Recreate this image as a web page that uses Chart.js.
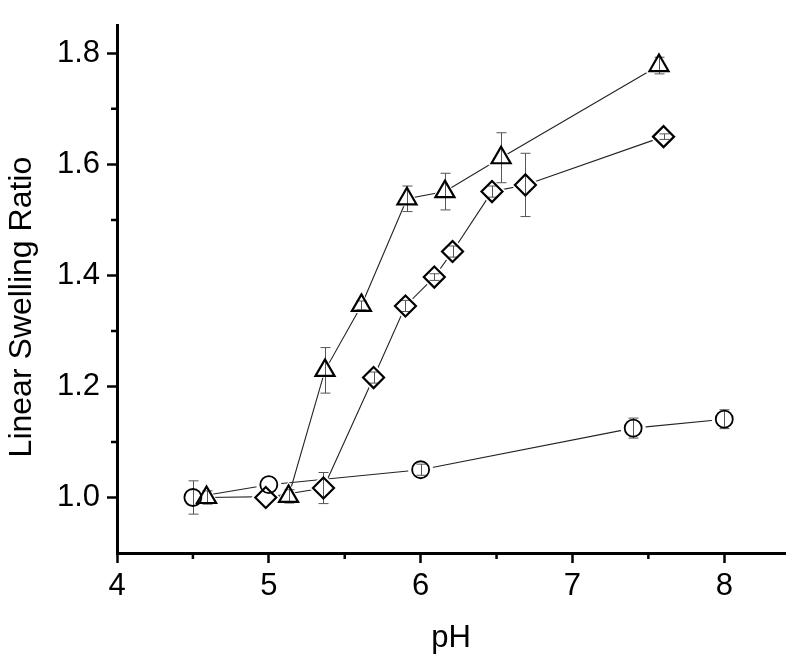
<!DOCTYPE html>
<html><head><meta charset="utf-8">
<script src="https://cdn.jsdelivr.net/npm/chart.js@4/dist/chart.umd.min.js"></script>
<style>html,body{margin:0;padding:0;background:#fff}#wrap{width:800px;height:665px}</style>
</head><body><div id="wrap"><canvas id="c" width="800" height="665"></canvas></div>
<script>
// ---- data ----
const circlePH = [4.50, 5.00, 6.00, 7.40, 8.00];
const circleRatio = [1.000, 1.023, 1.050, 1.125, 1.141];
const circleErr = [0.030, 0.000, 0.010, 0.018, 0.017];

const trianglePH = [4.59, 5.13, 5.37, 5.61, 5.91, 6.16, 6.53, 7.57];
const triangleRatio = [1.000, 1.002, 1.229, 1.346, 1.538, 1.551, 1.612, 1.778];
const triangleErr = [0.012, 0.012, 0.041, 0.008, 0.023, 0.033, 0.045, 0.015];

const diamondPH = [4.98, 5.36, 5.69, 5.90, 6.09, 6.21, 6.47, 6.69, 7.60];
const diamondRatio = [1.000, 1.017, 1.216, 1.345, 1.397, 1.443, 1.551, 1.563, 1.650];
const diamondErr = [0.000, 0.028, 0.010, 0.010, 0.006, 0.010, 0.010, 0.057, 0.005];

const xMajorTicks = [4, 5, 6, 7, 8];
const xMinorTicks = [4.5, 5.5, 6.5, 7.5];
const yMajorTicks = [1.0, 1.2, 1.4, 1.6, 1.8];
const yMinorTicks = [1.1, 1.3, 1.5, 1.7];
const xTitle = 'pH';
const yTitle = 'Linear Swelling Ratio';

// ---- build datasets ----
const FONT = "'Liberation Sans', Arial, sans-serif";
const series = [
  {x: circlePH, y: circleRatio, err: circleErr, style: 'circle', r: 8.5, bw: 1.8, order: 2},
  {x: trianglePH, y: triangleRatio, err: triangleErr, style: 'triangle', r: 11, bw: 2.2, order: 1},
  {x: diamondPH, y: diamondRatio, err: diamondErr, style: 'rectRot', r: 10.5, bw: 2.2, order: 0}
];
const pts = s => s.x.map((v, i) => ({x: v, y: s.y[i]}));
const datasets = [];
series.forEach((s, k) => {
  datasets.push({data: pts(s), showLine: true, borderColor: '#222', borderWidth: 1.1,
    pointRadius: 0, order: 30 + k, role: 'line'});
  datasets.push({data: pts(s), showLine: false, pointStyle: s.style, pointRadius: s.r + 4,
    pointBackgroundColor: '#fff', pointBorderWidth: 0, pointBorderColor: '#fff', order: 20 + k, role: 'halo'});
  datasets.push({data: pts(s), showLine: false, pointStyle: s.style, pointRadius: s.r,
    pointBackgroundColor: 'rgba(255,255,255,0)', pointBorderColor: '#000', pointBorderWidth: s.bw,
    order: 10 + s.order, role: s.order === 2 ? 'firstMarker' : 'marker'});
});

function drawErrorBars(chart) {
  const ctx = chart.ctx, xs = chart.scales.x, ys = chart.scales.y;
  ctx.save();
  ctx.strokeStyle = '#555';
  ctx.lineWidth = 1;
  series.forEach(s => {
    s.x.forEach((v, i) => {
      const e = s.err[i];
      if (!e) return;
      const px = Math.round(xs.getPixelForValue(v)) + 0.5;
      const top = ys.getPixelForValue(s.y[i] + e);
      const bot = ys.getPixelForValue(s.y[i] - e);
      ctx.beginPath();
      ctx.moveTo(px, top); ctx.lineTo(px, bot);
      ctx.moveTo(px - 5, top); ctx.lineTo(px + 5, top);
      ctx.moveTo(px - 5, bot); ctx.lineTo(px + 5, bot);
      ctx.stroke();
    });
  });
  ctx.restore();
}

const decor = {
  id: 'decor',
  beforeDatasetDraw(chart, args) {
    if (chart.data.datasets[args.index].role === 'firstMarker') drawErrorBars(chart);
  },
  afterDraw(chart) {
    const ctx = chart.ctx, xs = chart.scales.x, ys = chart.scales.y, a = chart.chartArea;
    ctx.save();
    ctx.strokeStyle = '#000';
    ctx.lineWidth = 2.5;
    ctx.beginPath();
    xMinorTicks.forEach(v => {
      const p = xs.getPixelForValue(v);
      ctx.moveTo(p, a.bottom); ctx.lineTo(p, a.bottom + 6);
    });
    yMinorTicks.forEach(v => {
      const p = ys.getPixelForValue(v);
      ctx.moveTo(a.left, p); ctx.lineTo(a.left - 6, p);
    });
    ctx.stroke();
    ctx.restore();
  }
};

new Chart(document.getElementById('c'), {
  type: 'scatter',
  data: {datasets},
  plugins: [decor],
  options: {
    responsive: false,
    animation: false,
    devicePixelRatio: 1,
    clip: false,
    layout: {padding: {top: 9, right: 10, left: 0, bottom: 0}},
    plugins: {legend: {display: false}, tooltip: {enabled: false}},
    elements: {line: {tension: 0}},
    scales: {
      x: {
        type: 'linear', min: 4, max: 8.4,
        afterBuildTicks: sc => { sc.ticks = xMajorTicks.map(v => ({value: v})); },
        afterFit: sc => { sc.height = 112; },
        border: {display: true, color: '#000', width: 3},
        grid: {display: true, drawOnChartArea: false, drawTicks: true, tickLength: 10, tickWidth: 2.5, tickColor: '#000'},
        ticks: {color: '#000', padding: 5, font: {family: FONT, size: 31}, callback: v => String(v), maxRotation: 0},
        title: {display: true, text: xTitle, color: '#000', font: {family: FONT, size: 31}, padding: {top: 0, bottom: 8}}
      },
      y: {
        type: 'linear', min: 0.9, max: 1.85,
        afterBuildTicks: sc => { sc.ticks = yMajorTicks.map(v => ({value: v})); },
        afterFit: sc => { sc.width = 117; },
        border: {display: true, color: '#000', width: 3},
        grid: {display: true, drawOnChartArea: false, drawTicks: true, tickLength: 10, tickWidth: 2.5, tickColor: '#000'},
        ticks: {color: '#000', padding: 7, font: {family: FONT, size: 31}, callback: v => Number(v).toFixed(1)},
        title: {display: true, text: yTitle + '    ', color: '#000', font: {family: FONT, size: 32}, padding: {top: 3, bottom: 0}}
      }
    }
  }
});
</script>
</body></html>
